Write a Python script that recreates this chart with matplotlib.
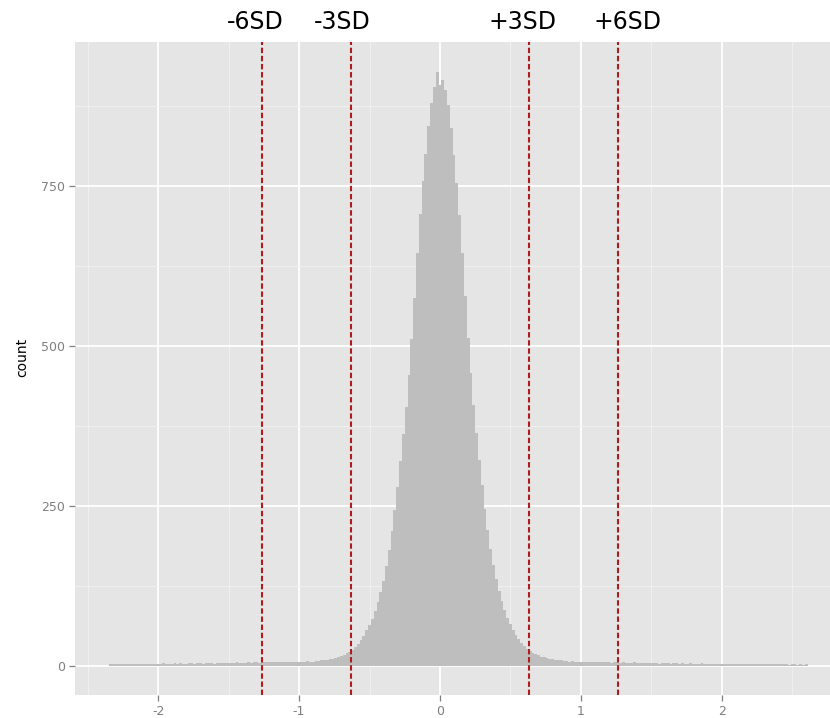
import numpy as np
import matplotlib
matplotlib.use("Agg")
import matplotlib.pyplot as plt
from matplotlib.transforms import blended_transform_factory, offset_copy

# ---------------- data ----------------
bin_start = -2.35
bin_width = 0.02

left_tail = [2, 2, 3, 2, 3, 3, 2, 3, 3, 3, 2, 3, 3, 3, 3, 3, 3,
             3, 3, 4, 3, 3, 3, 4, 3, 4, 3, 3, 4, 4, 3, 4, 4, 3, 4, 4, 4, 3, 4, 4, 4, 4,
             4, 4, 4, 5, 4, 4, 4, 5, 4, 5, 5, 4, 5, 5, 5, 5, 5, 5, 6, 5, 5, 6, 6, 5, 6, 6, 6, 6, 7, 6]
center_left = [6, 7, 7, 8, 8, 9, 10, 11, 12, 13, 15, 17, 19, 22, 25, 29, 34, 40, 47, 55,
               63, 73, 85, 99, 115, 133, 155, 180, 210, 243, 280, 320, 362, 405, 455,
               510, 575, 645, 706, 758, 800, 843, 880, 905, 928]
center_peak = [908]
center_right = [916, 900, 876, 840, 798, 755, 704, 645, 578, 512, 457, 407, 364, 322,
                282, 245, 212, 183, 157, 135, 117, 101, 87, 75, 65, 56, 48, 41, 35, 30,
                26, 23, 20, 18, 16, 14, 13, 12, 11, 10, 9, 8, 8, 7, 7]
right_tail = [6, 7, 6, 6, 6, 6, 6, 5, 6, 5, 5, 5, 5, 5, 5, 4, 5, 5, 4, 5, 4, 4, 4, 5, 4, 4, 4, 4, 4, 4,
              4, 4, 3, 4, 4, 4, 3, 4, 4, 3, 4, 3, 3, 4, 3, 3, 3, 4, 3, 3, 3, 3, 3, 3, 3,
              3, 3, 2, 3, 3, 3, 2, 3, 3, 2, 3, 2, 3, 2, 2, 3, 2, 2, 2, 2, 3, 2, 2, 1, 2, 2, 1, 2, 1, 2]
counts = left_tail + center_left + center_peak + center_right + right_tail

sd_values = [-1.265, -0.632, 0.632, 1.265]
sd_labels = ["-6SD", "-3SD", "+3SD", "+6SD"]

x_ticks = [-2, -1, 0, 1, 2]
y_ticks = [0, 250, 500, 750]

# ---------------- figure ----------------
W, H = 830, 718
fig = plt.figure(figsize=(W / 100, H / 100), dpi=100)
fig.patch.set_facecolor("white")
ax = fig.add_axes([75 / W, 1 - 695 / H, (843 - 75) / W, (695 - 42) / H])

ax.set_facecolor("#E5E5E5")
for s in ax.spines.values():
    s.set_visible(False)

n = len(counts)
edges = bin_start + bin_width * np.arange(n + 1)
ax.stairs(counts, edges, fill=True, color="#BEBEBE", linewidth=0, zorder=2)

ax.set_xlim(-2.59, 2.86)
ax.set_ylim(-46, 975)

ax.set_xticks(x_ticks)
ax.set_xticklabels([str(t) for t in x_ticks])
ax.set_yticks(y_ticks)
ax.set_yticklabels([str(t) for t in y_ticks])
ax.set_xticks([-2.5, -1.5, -0.5, 0.5, 1.5, 2.5], minor=True)
ax.set_yticks([125, 375, 625, 875], minor=True)

ax.grid(which="major", color="white", linewidth=1.3, zorder=0)
ax.grid(which="minor", color="#F2F2F2", linewidth=0.6, zorder=0)
ax.set_axisbelow(True)

ax.tick_params(which="major", length=4, width=0.9, color="#7F7F7F",
               labelcolor="#7F7F7F", labelsize=9, pad=3)
ax.tick_params(which="minor", length=0)

for v in sd_values:
    ax.axvline(v, color="#B01C1C", linewidth=1.5, linestyle=(0, (2.6, 1.3)), zorder=3)

trans = blended_transform_factory(ax.transData, fig.transFigure)
label_offsets_px = [-6, -9, -7, 9]
for v, lab, off in zip(sd_values, sd_labels, label_offsets_px):
    t = offset_copy(trans, fig=fig, x=off, y=0, units="dots")
    fig.text(v, 1 - 22 / H, lab, transform=t, ha="center", va="center",
             fontsize=17, color="black", family="DejaVu Sans")

fig.text(22 / W, 1 - 357 / H, "count", rotation=90, ha="center", va="center",
         fontsize=10, color="black")

fig.savefig("out.png", dpi=100)
